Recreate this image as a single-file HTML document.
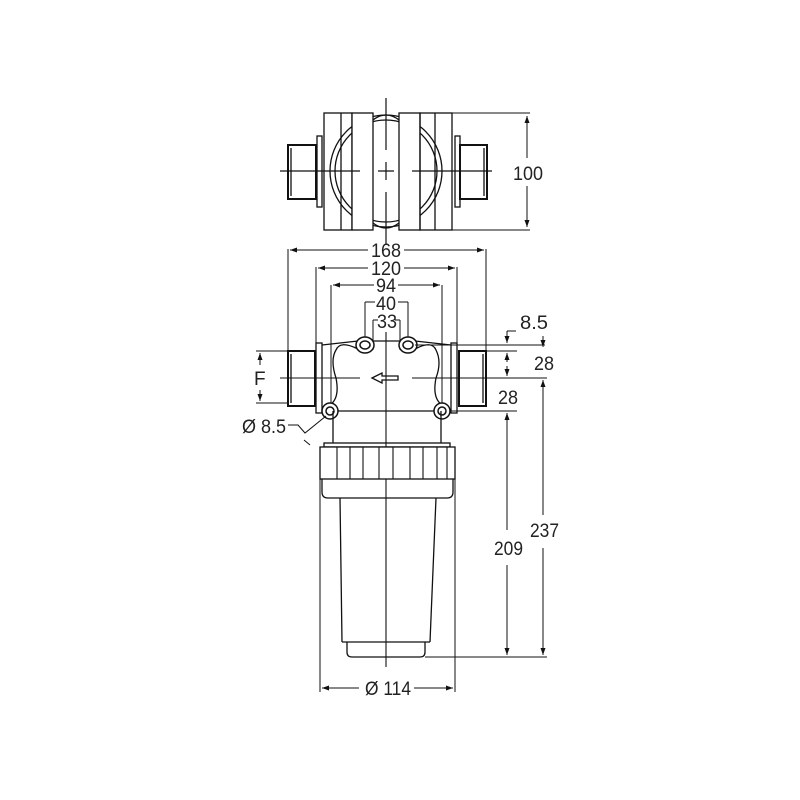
<!DOCTYPE html>
<html><head><meta charset="utf-8"><style>
html,body{margin:0;padding:0;background:#fff}
svg{display:block}
text{font-family:"Liberation Sans",sans-serif;font-size:19px;fill:#222}
</style></head><body>
<svg width="800" height="800" viewBox="0 0 800 800" xmlns="http://www.w3.org/2000/svg">
<defs>
<marker id="a" markerWidth="8" markerHeight="8" refX="7" refY="4" orient="auto-start-reverse" markerUnits="userSpaceOnUse"><path d="M0,1.5 L7,4 L0,6.5 Z" fill="#111"/></marker>
<clipPath id="sph"><rect x="324" y="113" width="128" height="117"/></clipPath>
</defs>
<g fill="none" stroke="#111" stroke-width="1.3">
<!-- TOP VIEW -->
<g clip-path="url(#sph)"><circle cx="386" cy="171" r="56"/><circle cx="386" cy="171" r="51"/></g>
<rect x="324" y="113" width="28" height="117" fill="none"/>
<line x1="341" y1="113" x2="341" y2="230"/>
<rect x="352" y="113" width="21" height="117" fill="#fff"/>
<rect x="399" y="113" width="21" height="117" fill="#fff"/>
<rect x="420" y="113" width="32" height="117" fill="none"/>
<line x1="435" y1="113" x2="435" y2="230"/>
<path d="M373 120 Q386 110 399 120 M373 223 Q386 233 399 223"/>
<rect x="317" y="136" width="5" height="71" fill="#fff"/>
<rect x="288" y="145" width="28" height="54" stroke-width="2" fill="#fff"/>
<line x1="291" y1="148" x2="291" y2="196"/>
<rect x="455" y="136" width="5" height="71" fill="#fff"/>
<rect x="460" y="145" width="27" height="54" stroke-width="2" fill="#fff"/>
<line x1="484" y1="148" x2="484" y2="196"/>
<path d="M280 171 H360 M378 171 H394 M412 171 H492" stroke-width="1.2"/>
<path d="M386 98 V150 M386 162 V180 M386 192 V245" stroke-width="1.2"/>
<path d="M452 113 H530 M452 230 H530" stroke-width="1"/>
<line x1="527" y1="116" x2="527" y2="158" marker-start="url(#a)" stroke-width="1"/>
<line x1="527" y1="186" x2="527" y2="227" marker-end="url(#a)" stroke-width="1"/>

<!-- FRONT VIEW dims top -->
<g stroke-width="1">
<path d="M288 249 V351 M486 249 V351 M316 267 V343 M457 267 V343 M331 285 V411 M442 285 V411 M365 302 V352 M408 302 V352 M373 320 V350 M400 320 V350"/>
<line x1="290" y1="250" x2="368" y2="250" marker-start="url(#a)"/><line x1="404" y1="250" x2="484" y2="250" marker-end="url(#a)"/>
<line x1="318" y1="268" x2="368" y2="268" marker-start="url(#a)"/><line x1="404" y1="268" x2="455" y2="268" marker-end="url(#a)"/>
<line x1="333" y1="285" x2="374" y2="285" marker-start="url(#a)"/><line x1="398" y1="285" x2="440" y2="285" marker-end="url(#a)"/>
<path d="M365 302 H375 M398 302 H408 M373 320 H378 M395 320 H400"/>
</g>
<!-- body -->
<path d="M322 345 L358 341 M372 341 L401 341 M415 341 L451 345 M322 411 H451" />
<path d="M358 349 Q340 340 336 350 Q330 360 336 378 Q340 398 330 405 M415 349 Q432 340 436 350 Q442 362 436 378 Q432 398 442 405"/>
<rect x="316" y="343" width="6" height="70" fill="#fff"/>
<rect x="451" y="343" width="6" height="70" fill="#fff"/>
<rect x="288" y="351" width="27" height="55" stroke-width="2" fill="#fff"/>
<line x1="291" y1="354" x2="291" y2="403"/>
<rect x="459" y="351" width="27" height="55" stroke-width="2" fill="#fff"/>
<line x1="483" y1="354" x2="483" y2="403"/>
<g stroke-width="1.5" fill="#fff">
<ellipse cx="365" cy="345" rx="9" ry="8"/><ellipse cx="365" cy="345" rx="5" ry="4"/>
<ellipse cx="408" cy="345" rx="9" ry="8"/><ellipse cx="408" cy="345" rx="5" ry="4"/>
<circle cx="330" cy="411" r="8"/><circle cx="330" cy="411" r="4"/>
<circle cx="442" cy="411" r="8"/><circle cx="442" cy="411" r="4"/>
</g>
<path d="M372 378 L382 373 V376 H398 V380 H382 V383 Z" stroke-width="1.3"/>
<path d="M280 378 H360 M412 378 H547" stroke-width="1.1"/>
<path d="M386 332 V667" stroke-width="1.1"/>
<!-- F -->
<path d="M256 351 H288 M256 403 H288" stroke-width="1"/>
<line x1="260" y1="365" x2="260" y2="353" marker-end="url(#a)" stroke-width="1"/>
<line x1="260" y1="390" x2="260" y2="401" marker-end="url(#a)" stroke-width="1"/>
<!-- Ø8.5 leader -->
<path d="M288 425 H298 L305 433 L326 416 M304 440 L310 445" stroke-width="1"/>
<!-- right dims -->
<g stroke-width="1">
<path d="M415 345 H545 M486 351 H517 M451 411 H517 M425 657 H547"/>
<path d="M507 331 H516"/>
<line x1="507" y1="331" x2="507" y2="343" marker-end="url(#a)"/>
<line x1="543" y1="336" x2="543" y2="347" marker-end="url(#a)"/>
<line x1="507" y1="362" x2="507" y2="353" marker-end="url(#a)"/>
<line x1="507" y1="366" x2="507" y2="376" marker-end="url(#a)"/>
<line x1="507" y1="530" x2="507" y2="413" marker-end="url(#a)"/>
<line x1="507" y1="565" x2="507" y2="655" marker-end="url(#a)"/>
<line x1="543" y1="515" x2="543" y2="380" marker-end="url(#a)"/>
<line x1="543" y1="548" x2="543" y2="655" marker-end="url(#a)"/>
</g>
<!-- neck + nut -->
<path d="M333 411 V443 M441 411 V443"/>
<rect x="324" y="443" width="126" height="4"/>
<rect x="320" y="447" width="135" height="32" fill="#fff"/>
<path d="M337 447 V479 M350 447 V479 M363 447 V479 M379 447 V479 M393 447 V479 M410 447 V479 M423 447 V479 M437 447 V479 M447 447 V479" stroke-width="1.1"/>
<path d="M322 479 V492 Q322 498 328 498 H447 Q453 498 453 492 V479"/>
<!-- bowl -->
<path d="M340 498 L342 642 M436 498 L430 642"/>
<path d="M342 642 H430"/>
<path d="M347 642 V652 Q347 657 352 657 H420 Q425 657 425 652 V642"/>
<!-- Ø114 -->
<path d="M320 479 V692 M455 479 V692" stroke-width="1"/>
<line x1="359" y1="688" x2="322" y2="688" marker-end="url(#a)" stroke-width="1"/>
<line x1="414" y1="688" x2="453" y2="688" marker-end="url(#a)" stroke-width="1"/>
</g>
<text x="513" y="180" textLength="30" lengthAdjust="spacingAndGlyphs">100</text>
<text x="371" y="257" textLength="30" lengthAdjust="spacingAndGlyphs">168</text>
<text x="371" y="275" textLength="30" lengthAdjust="spacingAndGlyphs">120</text>
<text x="376" y="292" textLength="20" lengthAdjust="spacingAndGlyphs">94</text>
<text x="376" y="310" textLength="20" lengthAdjust="spacingAndGlyphs">40</text>
<text x="377" y="328" textLength="20" lengthAdjust="spacingAndGlyphs">33</text>
<text x="520" y="329" textLength="28" lengthAdjust="spacingAndGlyphs">8.5</text>
<text x="534" y="370" textLength="20" lengthAdjust="spacingAndGlyphs">28</text>
<text x="498" y="404" textLength="20" lengthAdjust="spacingAndGlyphs">28</text>
<text x="254" y="385">F</text>
<text x="242" y="433" textLength="44" lengthAdjust="spacingAndGlyphs">Ø 8.5</text>
<text x="494" y="555" textLength="29" lengthAdjust="spacingAndGlyphs">209</text>
<text x="530" y="537" textLength="29" lengthAdjust="spacingAndGlyphs">237</text>
<text x="365" y="695" textLength="46" lengthAdjust="spacingAndGlyphs">Ø 114</text>
</svg>
</body></html>
